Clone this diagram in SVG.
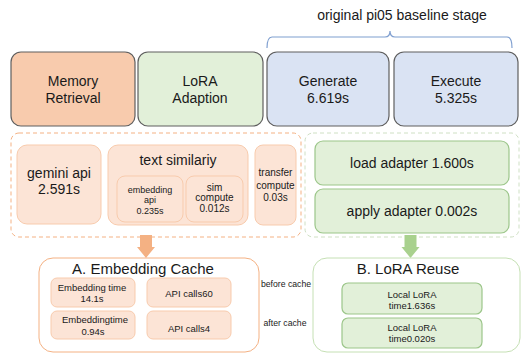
<svg xmlns="http://www.w3.org/2000/svg" width="523" height="353" viewBox="0 0 523 353">
  <style>
    text { font-family: "Liberation Sans", Arial, sans-serif; fill: #1a1a1a; text-anchor: middle; }
    .stage { stroke: #5f5f5f; stroke-width: 1.2; }
    .mem { fill: #F8CBAD; }
    .lora { fill: #E2F0D9; }
    .base { fill: #DAE3F3; }
    .obox { fill: #FCE4D6; stroke: #F8CBAD; stroke-width: 1; }
    .gbox { fill: #E2F0D9; stroke: #9CC68A; stroke-width: 1.2; }
    .t14 { font-size: 14px; }
    .t15 { font-size: 15px; }
    .t10 { font-size: 10px; }
    .t9 { font-size: 9px; }
    .note { font-size: 8.7px; }
  </style>

  <!-- baseline bracket -->
  <g id="baseline-label">
    <text class="t14" x="402" y="20">original pi05 baseline stage</text>
    <path d="M267,48 Q267,37 272,37 L385,37 Q390,37 390,31 Q390,37 395,37 L507,37 Q512,37 512,48" fill="none" stroke="#7F9FD0" stroke-width="1.2"/>
  </g>

  <!-- pipeline stages -->
  <g id="memory-retrieval">
    <rect class="stage mem" x="11" y="52" width="124" height="74" rx="10"/>
    <text class="t14" x="73" y="86">Memory</text>
    <text class="t14" x="73" y="103">Retrieval</text>
  </g>
  <g id="lora-adaption">
    <rect class="stage lora" x="138" y="52" width="125" height="74" rx="10"/>
    <text class="t14" x="200" y="86">LoRA</text>
    <text class="t14" x="200" y="103">Adaption</text>
  </g>
  <g id="generate">
    <rect class="stage base" x="267" y="52" width="122" height="74" rx="10"/>
    <text class="t14" x="328" y="86">Generate</text>
    <text class="t14" x="328" y="103">6.619s</text>
  </g>
  <g id="execute">
    <rect class="stage base" x="394" y="52" width="124" height="74" rx="10"/>
    <text class="t14" x="456" y="86">Execute</text>
    <text class="t14" x="456" y="103">5.325s</text>
  </g>

  <!-- memory retrieval breakdown -->
  <g id="retrieval-breakdown">
    <rect x="11" y="133" width="290" height="104" rx="8" fill="none" stroke="#F4B183" stroke-width="1" stroke-dasharray="4 3"/>
    <g id="gemini-api">
      <rect class="obox" x="17" y="145" width="84" height="79" rx="10"/>
      <text class="t14" x="59" y="178">gemini api</text>
      <text class="t14" x="59" y="194">2.591s</text>
    </g>
    <g id="text-similarity">
      <rect class="obox" x="108" y="145" width="140" height="80" rx="10"/>
      <text class="t14" x="178" y="165">text similariy</text>
      <g id="embedding-api">
        <rect class="obox" x="117" y="176" width="66" height="46" rx="8"/>
        <text class="t9" x="150" y="193">embedding</text>
        <text class="t9" x="150" y="203">api</text>
        <text class="t9" x="150" y="214">0.235s</text>
      </g>
      <g id="sim-compute">
        <rect class="obox" x="186" y="176" width="57" height="46" rx="8"/>
        <text class="t10" x="214.5" y="190.5">sim</text>
        <text class="t10" x="214.5" y="201">compute</text>
        <text class="t10" x="214.5" y="211.5">0.012s</text>
      </g>
    </g>
    <g id="transfer-compute">
      <rect class="obox" x="255" y="145" width="41" height="80" rx="8"/>
      <text class="t10" x="275.5" y="176">transfer</text>
      <text class="t10" x="275.5" y="189">compute</text>
      <text class="t10" x="275.5" y="201">0.03s</text>
    </g>
  </g>

  <!-- LoRA adaption breakdown -->
  <g id="adaption-breakdown">
    <rect x="305" y="133" width="214" height="104" rx="8" fill="none" stroke="#CFE0C4" stroke-width="1" stroke-dasharray="4 3"/>
    <g id="load-adapter">
      <rect class="gbox" x="315" y="141" width="194" height="44" rx="8"/>
      <text class="t14" x="412" y="168">load adapter 1.600s</text>
    </g>
    <g id="apply-adapter">
      <rect class="gbox" x="315" y="189" width="194" height="44" rx="8"/>
      <text class="t14" x="412" y="216">apply adapter 0.002s</text>
    </g>
  </g>

  <!-- arrows -->
  <g id="connectors">
    <path d="M140,235 H152 V247 H155 L146,258 L137,247 H140 Z" fill="#F4B183"/>
    <path d="M404.5,235 H416.5 V247 H419.5 L410.5,258 L401.5,247 H404.5 Z" fill="#A9D18E"/>
  </g>

  <!-- optimisation A -->
  <g id="embedding-cache">
    <rect x="39" y="258" width="220" height="94" rx="14" fill="#fff" stroke="#F4B183" stroke-width="1"/>
    <text class="t15" x="143" y="273.5">A. Embedding Cache</text>
    <g id="emb-before">
      <rect class="obox" x="51" y="278" width="84" height="29" rx="6"/>
      <text class="t9" x="92" y="290.5" style="font-size:9.5px">Embedding time</text>
      <text class="t9" x="92" y="302" style="font-size:9.5px">14.1s</text>
    </g>
    <g id="api-before">
      <rect class="obox" x="147" y="278" width="84" height="29" rx="6"/>
      <text class="t9" x="189" y="296.5" style="font-size:9.5px">API calls60</text>
    </g>
    <g id="emb-after">
      <rect class="obox" x="51" y="311" width="84" height="28" rx="6"/>
      <text class="t9" x="95" y="323" style="font-size:9.5px">Embeddingtime</text>
      <text class="t9" x="93" y="334.5" style="font-size:9.5px">0.94s</text>
    </g>
    <g id="api-after">
      <rect class="obox" x="147" y="311" width="84" height="28" rx="6"/>
      <text class="t9" x="189" y="331.5" style="font-size:9.5px">API calls4</text>
    </g>
  </g>

  <!-- row labels -->
  <g id="row-labels">
    <text class="note" x="286" y="287">before cache</text>
    <text class="note" x="285" y="326">after cache</text>
  </g>

  <!-- optimisation B -->
  <g id="lora-reuse">
    <rect x="313" y="258" width="207" height="94" rx="14" fill="#fff" stroke="#C5E0B4" stroke-width="1"/>
    <text class="t15" x="408" y="273.5">B. LoRA Reuse</text>
    <g id="lora-before">
      <rect class="gbox" x="342" y="283" width="140" height="31" rx="6"/>
      <text class="t9" x="412" y="298" style="font-size:9.5px">Local LoRA</text>
      <text class="t9" x="412" y="308.5" style="font-size:9.5px">time1.636s</text>
    </g>
    <g id="lora-after">
      <rect class="gbox" x="342" y="318" width="140" height="30" rx="6"/>
      <text class="t9" x="412" y="331" style="font-size:9.5px">Local LoRA</text>
      <text class="t9" x="412" y="341.5" style="font-size:9.5px">time0.020s</text>
    </g>
  </g>
</svg>
